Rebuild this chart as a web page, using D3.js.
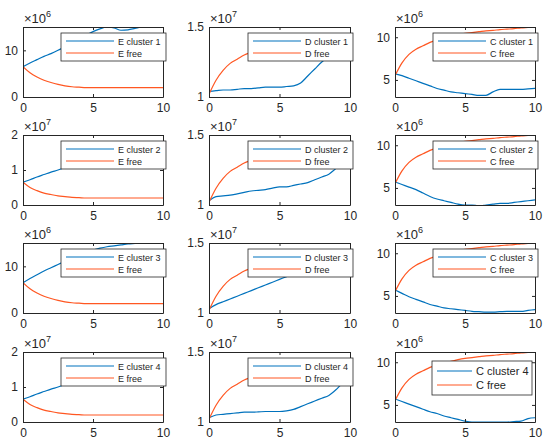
<!DOCTYPE html><html><head><script src="https://cdn.jsdelivr.net/npm/d3@7"></script>
<style>body{margin:0;background:#fff}text{font-family:Arial,"Liberation Sans",sans-serif;fill:#262626}</style></head><body>
<svg id="c" width="550" height="445"></svg>
<script>
const xs=[0,0.5,1,1.5,2,2.5,3,3.5,4,4.5,5,5.5,6,6.5,7,7.5,8,8.5,9,9.5,10];
const xTicks=[0,5,10];
const E1c=[6.5,7.3,8,8.7,9.3,10,10.8,11.6,12.4,13.2,14,14.6,15,14.8,14.3,14.4,14.7,15,15,15,15];
const E1f=[6.5,5.2,4.3,3.6,3.1,2.7,2.4,2.2,2.1,2.0,2.0,2.0,2.0,2.0,2.0,2.0,2.0,2.0,2.0,2.0,2.0];
const E2c=[0.65,0.72,0.8,0.87,0.94,1.0,1.07,1.13,1.2,1.27,1.33,1.4,1.45,1.5,1.55,1.58,1.6,1.62,1.63,1.64,1.65];
const E2f=[0.65,0.5,0.41,0.34,0.3,0.26,0.24,0.22,0.21,0.2,0.2,0.2,0.2,0.2,0.2,0.2,0.2,0.2,0.2,0.2,0.2];
const E3c=[6.5,7.4,8.2,9,9.7,10.4,11.1,11.8,12.4,13,13.5,13.9,14.2,14.4,14.6,14.8,14.9,15,15.1,15.2,15.3];
const E3f=E1f;
const E4c=E2c, E4f=E2f;
const D1c=[1.04,1.045,1.05,1.05,1.055,1.06,1.06,1.065,1.07,1.07,1.07,1.075,1.08,1.1,1.15,1.2,1.25,1.29,1.33,1.36,1.38];
const D1f=[1.02,1.12,1.19,1.24,1.27,1.3,1.32,1.34,1.35,1.36,1.37,1.38,1.385,1.39,1.395,1.4,1.405,1.41,1.415,1.42,1.42];
const D2c=[1.03,1.06,1.065,1.07,1.08,1.09,1.1,1.105,1.11,1.12,1.13,1.13,1.14,1.15,1.16,1.18,1.2,1.22,1.26,1.3,1.33];
const D3c=[1.03,1.06,1.08,1.1,1.12,1.14,1.16,1.18,1.2,1.22,1.24,1.26,1.28,1.3,1.32,1.34,1.36,1.37,1.38,1.39,1.4];
const D4c=[1.03,1.05,1.055,1.06,1.065,1.07,1.07,1.072,1.075,1.075,1.075,1.08,1.09,1.11,1.13,1.15,1.17,1.19,1.23,1.28,1.31];
const Df=D1f;
const C1c=[5.7,5.5,5.2,4.9,4.6,4.3,4.0,3.8,3.6,3.5,3.4,3.3,3.2,3.2,3.6,3.9,3.9,3.9,3.9,3.95,4.0];
const C2c=[5.7,5.4,5.1,4.8,4.4,4.0,3.7,3.5,3.3,3.1,3.0,3.0,2.9,3.0,3.1,3.2,3.2,3.3,3.4,3.5,3.6];
const C3c=[5.7,5.3,4.9,4.6,4.3,4.0,3.8,3.6,3.5,3.4,3.3,3.2,3.15,3.1,3.1,3.15,3.2,3.2,3.2,3.3,3.4];
const C4c=[5.7,5.4,5.1,4.8,4.5,4.2,4.0,3.7,3.5,3.3,3.1,3.0,3.0,3.0,3.0,3.0,3.0,3.05,3.1,3.4,3.5];
const Cf=[5.5,7.0,8.0,8.6,9.0,9.4,9.7,9.9,10.1,10.3,10.45,10.55,10.65,10.75,10.8,10.9,10.95,11.0,11.1,11.15,11.2];

const panels=[
 {c:E1c,f:E1f,lab:["E cluster 1","E free"],dom:[0,15],ticks:[0,10],exp:"6"},
 {c:D1c,f:Df,lab:["D cluster 1","D free"],dom:[1,1.5],ticks:[1,1.5],exp:"7"},
 {c:C1c,f:Cf,lab:["C cluster 1","C free"],dom:[3,11.2],ticks:[5,10],exp:"6"},
 {c:E2c,f:E2f,lab:["E cluster 2","E free"],dom:[0,2],ticks:[0,1,2],exp:"7"},
 {c:D2c,f:Df,lab:["D cluster 2","D free"],dom:[1,1.5],ticks:[1,1.5],exp:"7"},
 {c:C2c,f:Cf,lab:["C cluster 2","C free"],dom:[3,11.2],ticks:[5,10],exp:"6"},
 {c:E3c,f:E3f,lab:["E cluster 3","E free"],dom:[0,15],ticks:[0,10],exp:"6"},
 {c:D3c,f:Df,lab:["D cluster 3","D free"],dom:[1,1.5],ticks:[1,1.5],exp:"7"},
 {c:C3c,f:Cf,lab:["C cluster 3","C free"],dom:[3,11.2],ticks:[5,10],exp:"6"},
 {c:E4c,f:E4f,lab:["E cluster 4","E free"],dom:[0,2],ticks:[0,1,2],exp:"7"},
 {c:D4c,f:Df,lab:["D cluster 4","D free"],dom:[1,1.5],ticks:[1,1.5],exp:"7"},
 {c:C4c,f:Cf,lab:["C cluster 4","C free"],dom:[3,11.2],ticks:[5,10],exp:"6",big:true}
];
const colX=[[23,163],[209,350],[395,535]];
const rowY=[[27,97],[135,205],[243,313],[352,422]];
const svg=d3.select("#c");
panels.forEach((p,i)=>{
 const r=Math.floor(i/3),c=i%3;
 const x=d3.scaleLinear().domain([0,10]).range(colX[c]);
 const y=d3.scaleLinear().domain(p.dom).range([rowY[r][1],rowY[r][0]]);
 const g=svg.append("g");
 const [x0,x1]=colX[c],[y0,y1]=rowY[r];
 const clip="cl"+i;
 g.append("clipPath").attr("id",clip).append("rect").attr("x",x0).attr("y",y0).attr("width",x1-x0).attr("height",y1-y0);
 const line=d3.line().x((d,j)=>x(xs[j])).y(d=>y(d)).curve(d3.curveMonotoneX);
 g.append("path").datum(p.c).attr("d",line).attr("fill","none").attr("stroke","#0072BD").attr("stroke-width",1.2).attr("clip-path",`url(#${clip})`);
 g.append("path").datum(p.f).attr("d",line).attr("fill","none").attr("stroke","#FF5722").attr("stroke-width",1.2).attr("clip-path",`url(#${clip})`);
 const ax=(gen,tr)=>g.append("g").attr("transform",tr).call(gen).call(s=>{s.select(".domain").attr("stroke","#262626");s.selectAll("line").attr("stroke","#262626");s.selectAll("text").attr("font-size",12).attr("fill","#262626");});
 ax(d3.axisBottom(x).tickValues(xTicks).tickSize(-3).tickPadding(6).tickSizeOuter(0),`translate(0,${y1})`);
 ax(d3.axisTop(x).tickValues(xTicks).tickSize(-3).tickFormat("").tickSizeOuter(0),`translate(0,${y0})`);
 ax(d3.axisLeft(y).tickValues(p.ticks).tickSize(-3).tickPadding(5).tickSizeOuter(0).tickFormat(d3.format("~g")),`translate(${x0},0)`);
 ax(d3.axisRight(y).tickValues(p.ticks).tickSize(-3).tickFormat("").tickSizeOuter(0),`translate(${x1},0)`);
 const t=g.append("text").attr("x",x0+1).attr("y",y0-4).attr("font-size",13).text("×10");
 t.append("tspan").attr("dy",-6).attr("font-size",9).text(p.exp);
 const lw=p.big?100:105, lh=p.big?34:28;
 const lx=p.big?x1-lw-3:x1-lw+3, ly=y0+(p.big?9:6);
 const L=g.append("g");
 L.append("rect").attr("x",lx).attr("y",ly).attr("width",lw).attr("height",lh).attr("fill","#fff").attr("stroke","#262626").attr("stroke-width",0.8);
 [["#0072BD",p.lab[0]],["#FF5722",p.lab[1]]].forEach(([col,txt],k)=>{
  const yy=ly+(p.big?10:8)+k*(p.big?14:12);
  L.append("line").attr("x1",lx+5).attr("x2",lx+(p.big?40:53)).attr("y1",yy).attr("y2",yy).attr("stroke",col).attr("stroke-width",1.2);
  L.append("text").attr("x",lx+(p.big?44:57)).attr("y",yy+3.5).attr("font-size",p.big?11:9).text(txt);
 });
});
</script></body></html>
